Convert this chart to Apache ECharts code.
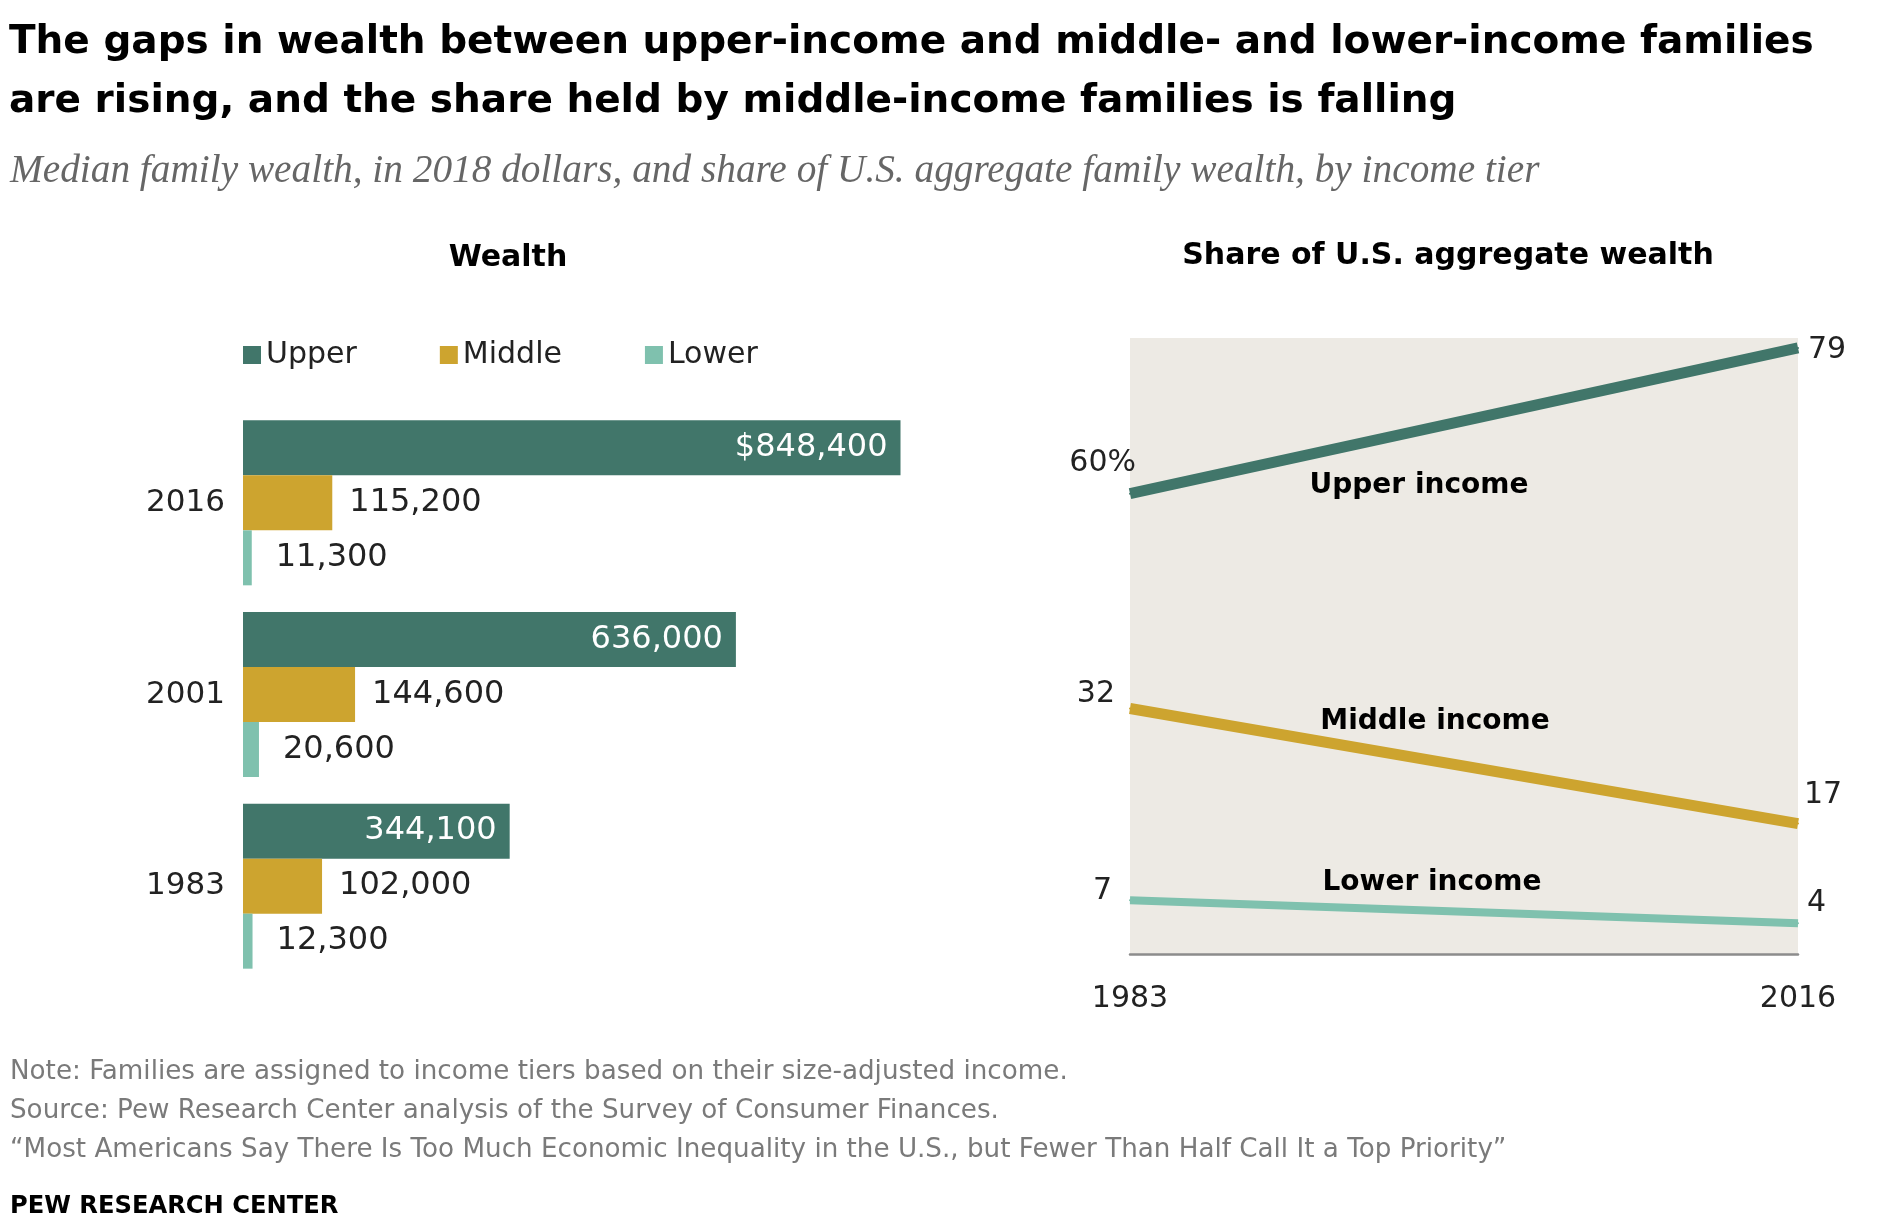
<!DOCTYPE html>
<html lang="en">
<head>
    <meta charset="UTF-8">
    <title>Wealth gaps by income tier</title>
    <script type="text/javascript" src="https://cdn.jsdelivr.net/npm/echarts@6/dist/echarts.min.js"></script>
    <style>
        html, body { margin: 0; padding: 0; background: #fff; }
    </style>
</head>
<body>
<div id="main" style="width: 1895px;height:1230px;"></div>

<script type="text/javascript">
    // median family wealth, 2018 dollars
    var years = ['2016', '2001', '1983'];
    var upperWealth = [848400, 636000, 344100];
    var middleWealth = [115200, 144600, 102000];
    var lowerWealth = [11300, 20600, 12300];

    // share of aggregate wealth, %
    var shareYears = ['1983', '2016'];
    var upperShare = [60, 79];
    var middleShare = [32, 17];
    var lowerShare = [7, 4];

    var GREEN = '#41766A', GOLD = '#CDA42F', TEAL = '#7FC1AE';
    var FONT = 'DejaVu Sans';

    var chartDom = document.getElementById('main');
    var myChart = echarts.init(chartDom);

    function fmt(v) {
        return v.toLocaleString('en-US');
    }

    // label placement for the line ends
    function shareData(values, leftOff, rightOff, suffix) {
        return values.map(function (v, i) {
            var left = i === 0;
            return {
                value: v,
                label: {
                    show: true,
                    position: left ? 'left' : 'right',
                    distance: 0,
                    offset: left ? leftOff : rightOff,
                    formatter: (left && suffix) ? v + suffix : String(v)
                }
            };
        });
    }

    var option = {
        animation: false,
        textStyle: {fontFamily: FONT},
        title: [
            {
                text: 'The gaps in wealth between upper-income and middle- and lower-income families\nare rising, and the share held by middle-income families is falling',
                left: 4, top: 8,
                textStyle: {fontSize: 39, fontWeight: 'bold', color: '#000', lineHeight: 59, fontFamily: FONT}
            },
            {
                text: 'Median family wealth, in 2018 dollars, and share of U.S. aggregate family wealth, by income tier',
                left: 5, top: 147,
                textStyle: {fontSize: 39.3, fontStyle: 'italic', fontWeight: 'normal', color: '#666', fontFamily: 'Liberation Serif'}
            },
            {
                text: 'Wealth',
                left: 503, top: 238, textAlign: 'center',
                textStyle: {fontSize: 30, fontWeight: 'bold', color: '#000', fontFamily: FONT}
            },
            {
                text: 'Share of U.S. aggregate wealth',
                left: 1443, top: 236, textAlign: 'center',
                textStyle: {fontSize: 30, fontWeight: 'bold', color: '#000', fontFamily: FONT}
            },
            {
                text: 'Note: Families are assigned to income tiers based on their size-adjusted income.\nSource: Pew Research Center analysis of the Survey of Consumer Finances.\n\u201cMost Americans Say There Is Too Much Economic Inequality in the U.S., but Fewer Than Half Call It a Top Priority\u201d',
                left: 5, top: 1048,
                textStyle: {fontSize: 26.2, fontWeight: 'normal', color: '#7a7a7a', lineHeight: 38.8, fontFamily: FONT}
            },
            {
                text: 'PEW RESEARCH CENTER',
                left: 5, top: 1190,
                textStyle: {fontSize: 24.2, fontWeight: 'bold', color: '#000', fontFamily: FONT}
            }
        ],
        legend: {
            data: ['Upper', 'Middle', 'Lower'],
            left: 243, top: 340,
            icon: 'rect',
            itemWidth: 18, itemHeight: 18, itemGap: 83,
            padding: 0,
            textStyle: {fontSize: 30, color: '#222', fontFamily: FONT}
        },
        grid: [
            {left: 243, top: 407, width: 775, height: 575},
            {left: 1130, top: 338, width: 668, height: 616, show: true, backgroundColor: '#EDEAE4', borderWidth: 0}
        ],
        xAxis: [
            {
                type: 'value', gridIndex: 0, min: 0, max: 1000000,
                show: false
            },
            {
                type: 'category', gridIndex: 1, data: shareYears, boundaryGap: false,
                axisLine: {show: true, lineStyle: {color: '#8c8c8c', width: 2.5}},
                axisTick: {show: false},
                splitLine: {show: false},
                axisLabel: {fontSize: 30, color: '#222', margin: 30, fontFamily: FONT}
            }
        ],
        yAxis: [
            {
                type: 'category', gridIndex: 0, data: years, inverse: true,
                axisLine: {show: false}, axisTick: {show: false},
                axisLabel: {fontSize: 31, color: '#222', margin: 18, fontFamily: FONT}
            },
            {
                type: 'value', gridIndex: 1, min: 0, max: 80.3,
                show: false, splitLine: {show: false}
            }
        ],
        series: [
            {
                name: 'Upper', type: 'bar', xAxisIndex: 0, yAxisIndex: 0,
                data: upperWealth, barWidth: 55, barGap: '0%',
                itemStyle: {color: GREEN},
                label: {
                    show: true, position: 'insideRight', distance: 13,
                    fontSize: 32, color: '#fff', fontFamily: FONT,
                    formatter: function (p) {
                        return (p.dataIndex === 0 ? '$' : '') + fmt(p.value);
                    }
                }
            },
            {
                name: 'Middle', type: 'bar', xAxisIndex: 0, yAxisIndex: 0,
                data: middleWealth, barWidth: 55, barGap: '0%',
                itemStyle: {color: GOLD},
                label: {
                    show: true, position: 'right', distance: 17,
                    fontSize: 32, color: '#222', fontFamily: FONT,
                    formatter: function (p) { return fmt(p.value); }
                }
            },
            {
                name: 'Lower', type: 'bar', xAxisIndex: 0, yAxisIndex: 0,
                data: lowerWealth, barWidth: 55, barGap: '0%',
                itemStyle: {color: TEAL},
                label: {
                    show: true, position: 'right', distance: 24,
                    fontSize: 32, color: '#222', fontFamily: FONT,
                    formatter: function (p) { return fmt(p.value); }
                }
            },
            {
                name: 'Upper income', type: 'line', xAxisIndex: 1, yAxisIndex: 1,
                data: shareData(upperShare, [7, -31], [9, 2], '%'),
                symbol: 'circle', symbolSize: 2,
                itemStyle: {color: GREEN},
                lineStyle: {color: GREEN, width: 11},
                label: {fontSize: 30, color: '#222', fontFamily: FONT}
            },
            {
                name: 'Middle income', type: 'line', xAxisIndex: 1, yAxisIndex: 1,
                data: shareData(middleShare, [-14, -14], [5, -28]),
                symbol: 'circle', symbolSize: 2,
                itemStyle: {color: GOLD},
                lineStyle: {color: GOLD, width: 11},
                label: {fontSize: 30, color: '#222', fontFamily: FONT}
            },
            {
                name: 'Lower income', type: 'line', xAxisIndex: 1, yAxisIndex: 1,
                data: shareData(lowerShare, [-17, -9], [8, -20]),
                symbol: 'circle', symbolSize: 2,
                itemStyle: {color: TEAL},
                lineStyle: {color: TEAL, width: 8},
                label: {fontSize: 30, color: '#222', fontFamily: FONT}
            }
        ],
        graphic: [
            {type: 'text', x: 1419, y: 486, style: {text: 'Upper income', font: 'bold 28px "DejaVu Sans"', fill: '#000', textAlign: 'center', textVerticalAlign: 'middle'}},
            {type: 'text', x: 1435, y: 722, style: {text: 'Middle income', font: 'bold 28px "DejaVu Sans"', fill: '#000', textAlign: 'center', textVerticalAlign: 'middle'}},
            {type: 'text', x: 1432, y: 883, style: {text: 'Lower income', font: 'bold 28px "DejaVu Sans"', fill: '#000', textAlign: 'center', textVerticalAlign: 'middle'}}
        ]
    };

    option && myChart.setOption(option);
</script>
</body>
</html>
